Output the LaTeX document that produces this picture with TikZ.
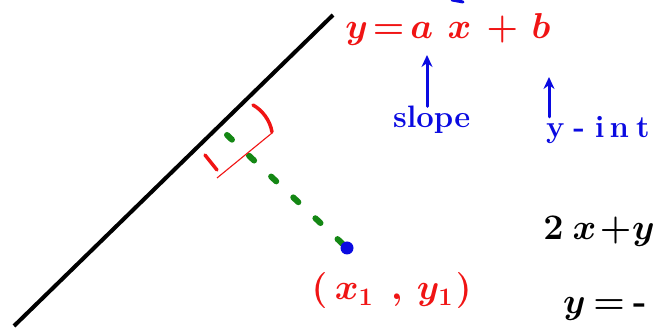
\RequirePackage{fix-cm}
\documentclass[tikz,border=0pt]{standalone}
\usepackage{amsmath}
\usetikzlibrary{arrows.meta,calc}
\definecolor{inkred}{RGB}{240,20,20}
\definecolor{inkblue}{RGB}{10,10,225}
\definecolor{inkgreen}{RGB}{20,135,20}
\newcommand{\cbx}[2]{\makebox[#1pt]{#2}}
\tikzset{
  hand/.style={inner sep=0pt, outer sep=0pt, anchor=base west, font=\fontsize{36}{42}\selectfont\bfseries\boldmath},
  redtxt/.style={hand, text=inkred},
  bluetxt/.style={hand, text=inkblue, font=\fontsize{31}{38}\selectfont\bfseries},
  blacktxt/.style={hand, text=black},
  bluearrow/.style={inkblue, line width=3pt, line cap=round, -{Stealth[length=12pt,width=11pt]}},
  redmark/.style={inkred, line width=3.5pt, line cap=round},
  perpline/.style={inkgreen, line width=6pt, line cap=round, dash pattern=on 7pt off 23.4pt},
}
\begin{document}
\begin{tikzpicture}[x=1pt,y=-1pt]
\useasboundingbox (0,0) rectangle (657,328);
\clip (0,0) rectangle (657,328);
% black line
\coordinate (L0) at (14,326);
\coordinate (L1) at (333,15);
\draw[line width=4pt] (L0) -- (L1);
% perpendicular from point
\coordinate (P) at (347,248);
\coordinate (F) at (227,135);
\draw[perpline] ($(P)!6pt!(F)$) -- (F);
\fill[inkblue] (P) circle (6.5pt);
% right-angle marker
\draw[inkred, line width=1.1pt] (217,178) -- (272,133);
\draw[redmark] (253,105) .. controls (262,110) and (270,120) .. (272,132);
\draw[redmark] (205,155) -- (217,170);
% equation
\node[redtxt] (eq) at (342,39) {\cbx{29.5}{$y$}\cbx{34}{$=$}\cbx{32.5}{$a$}\cbx{43}{$x$}\cbx{42.5}{$+$}\cbx{35}{$b$}};
% labels
\node[bluetxt] (slope) at (393,128) {slope};
\node[bluetxt] (yint) at (543,138) {\cbx{24.5}{y}\cbx{23.5}{-}\cbx{17.5}{i}\cbx{21.5}{n}\cbx{26}{t}};
\coordinate (A1) at (427,55);
\coordinate (A2) at (549,77);
\draw[bluearrow] (slope.north -| A1) -- (A1);
\draw[bluearrow] (yint.north -| A2) -- (A2);
% point label
\node[redtxt] (pt) at (306,300) {\cbx{27}{$($}\cbx{42}{$x_1$}\cbx{43.5}{$,$}\cbx{33}{$y_1$}\cbx{24.5}{$)$}};
% black equations
\node[blacktxt] (eq2) at (538,240) {\cbx{31}{$2$}\cbx{31}{$x$}\cbx{31}{$+$}\cbx{25}{$y$}};
\node[blacktxt] (eq3) at (557,314) {\cbx{35}{$y$}\cbx{34}{$=$}\cbx{28}{-}};
% blue stroke cut at top edge
\draw[inkblue, line width=3pt, line cap=round] (452,0) -- (463,2);
\end{tikzpicture}
\end{document}
